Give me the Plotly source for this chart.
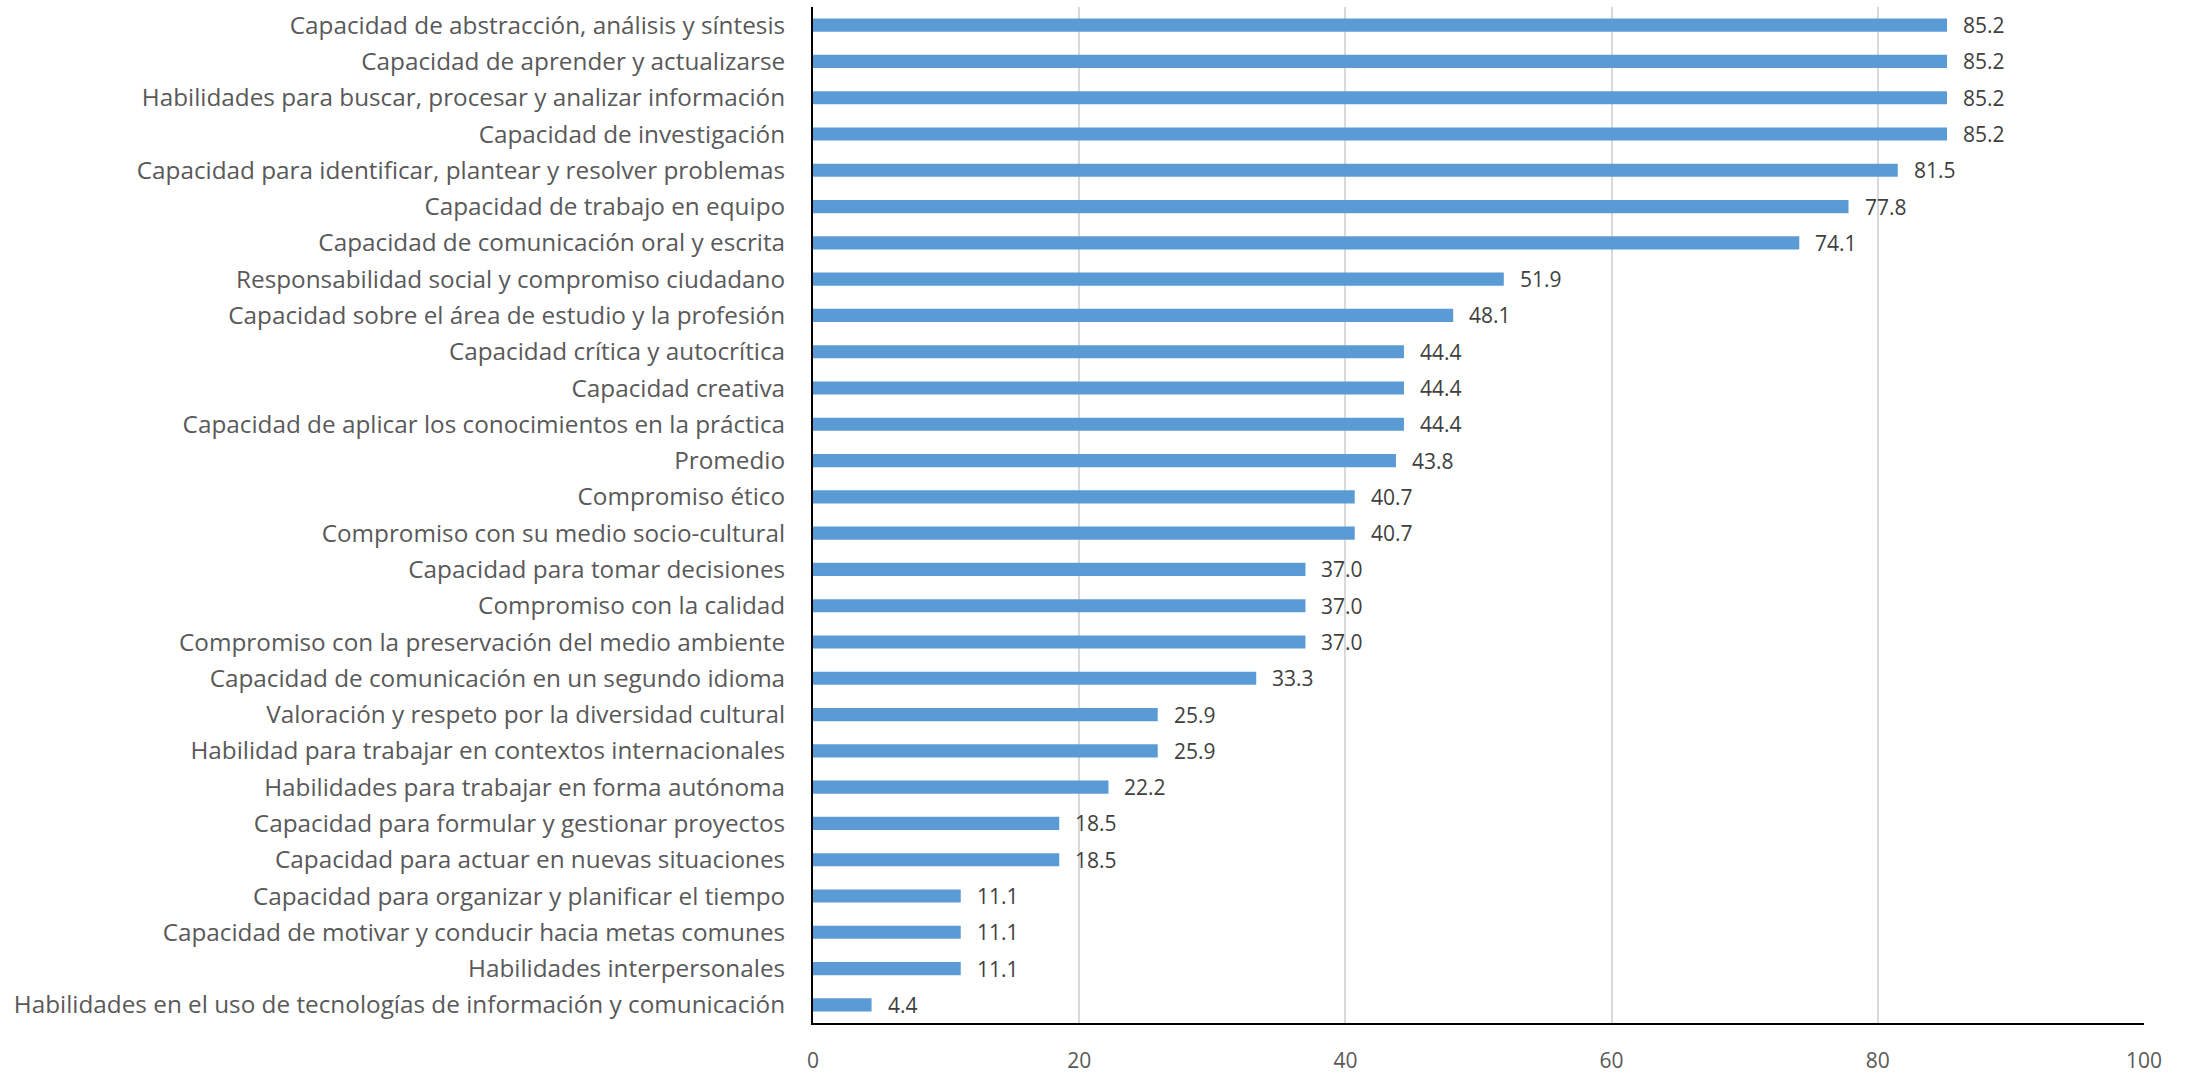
import plotly.graph_objects as go

categories = [
    "Capacidad de abstracción, análisis y síntesis",
    "Capacidad de aprender y actualizarse",
    "Habilidades para buscar, procesar y analizar información",
    "Capacidad de investigación",
    "Capacidad para identificar, plantear y resolver problemas",
    "Capacidad de trabajo en equipo",
    "Capacidad de comunicación oral y escrita",
    "Responsabilidad social y compromiso ciudadano",
    "Capacidad sobre el área de estudio y la profesión",
    "Capacidad crítica y autocrítica",
    "Capacidad creativa",
    "Capacidad de aplicar los conocimientos en la práctica",
    "Promedio",
    "Compromiso ético",
    "Compromiso con su medio socio-cultural",
    "Capacidad para tomar decisiones",
    "Compromiso con la calidad",
    "Compromiso con la preservación del medio ambiente",
    "Capacidad de comunicación en un segundo idioma",
    "Valoración y respeto por la diversidad cultural",
    "Habilidad para trabajar en contextos internacionales",
    "Habilidades para trabajar en forma autónoma",
    "Capacidad para formular y gestionar proyectos",
    "Capacidad para actuar en nuevas situaciones",
    "Capacidad para organizar y planificar el tiempo",
    "Capacidad de motivar y conducir hacia metas comunes",
    "Habilidades interpersonales",
    "Habilidades en el uso de tecnologías de información y comunicación",
]
values = [85.2, 85.2, 85.2, 85.2, 81.5, 77.8, 74.1, 51.9, 48.1, 44.4, 44.4, 44.4,
          43.8, 40.7, 40.7, 37.0, 37.0, 37.0, 33.3, 25.9, 25.9, 22.2, 18.5, 18.5,
          11.1, 11.1, 11.1, 4.4]
x_ticks = [0, 20, 40, 60, 80, 100]

FONT = "Open Sans"

fig = go.Figure()
fig.add_trace(go.Bar(
    x=values, y=categories, orientation="h",
    marker=dict(color="#5b9bd5", line=dict(width=0)),
    hoverinfo="x+y",
))

annotations = [
    dict(x=v, y=c, xref="x", yref="y", text=f"{v:.1f}", showarrow=False,
         xanchor="left", yanchor="middle", xshift=14,
         font=dict(family=FONT, size=21, color="#404040"))
    for c, v in zip(categories, values)
]

fig.update_layout(
    width=2190, height=1081,
    margin=dict(l=813, r=46, t=7, b=41),
    paper_bgcolor="white", plot_bgcolor="white",
    bargap=0.637,
    showlegend=False,
    annotations=annotations,
    font=dict(family=FONT, color="#595959"),
)
fig.update_xaxes(
    range=[0, 100], tickvals=x_ticks, ticktext=[str(t) for t in x_ticks],
    showgrid=True, gridcolor="#d9d9d9", gridwidth=2,
    showline=True, linecolor="black", linewidth=2,
    zeroline=False, ticks="", ticklabelstandoff=18,
    tickfont=dict(family=FONT, size=21, color="#595959"),
)
fig.update_yaxes(
    categoryorder="array", categoryarray=categories, autorange="reversed",
    showline=True, linecolor="black", linewidth=2,
    showgrid=False, ticks="", ticklabelstandoff=21,
    tickfont=dict(family=FONT, size=24.3, color="#595959"),
)

fig.write_html(
    "out.html",
    config={"displayModeBar": False},
    post_script="document.body.style.margin='0';document.body.style.overflow='hidden';",
)
